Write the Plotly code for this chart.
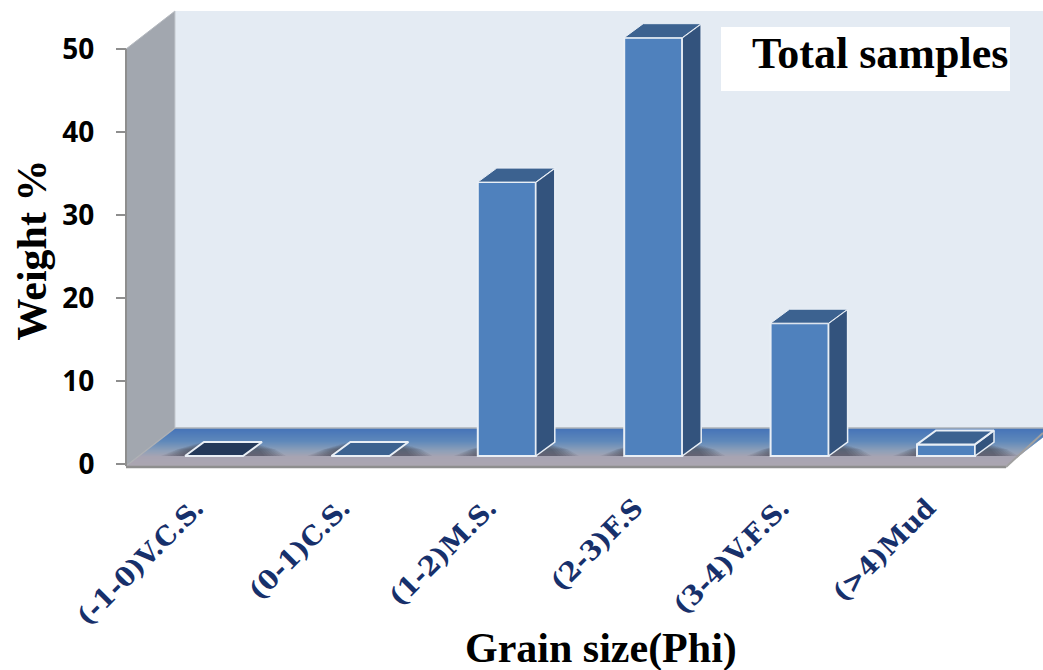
import plotly.graph_objects as go

# ---- data ----
categories = ["(-1-0)V.C.S.", "(0-1)C.S.", "(1-2)M.S.", "(2-3)F.S", "(3-4)V.F.S.", "(>4)Mud"]
weight_pct = [0.0, 0.0, 33.0, 50.4, 16.0, 1.4]
y_ticks = [0, 10, 20, 30, 40, 50]
top_colors = ["#24395A", "#3C6290", "#3C6290", "#3C6290", "#3C6290", "#3C6290"]

# ---- canvas / projection ----
W, H = 1043, 670
L, R, T, B = 126, 0, 0, 170
PLOT_W, PLOT_H = W - L - R, H - T - B
PX_PER_UNIT = 8.3
AXIS_ZERO_PX = 464
BAR_ZERO_PX = 456
CAT0_PX, CAT_STEP = 214.0, 146.4
DOMAIN_LEFT_PX = 158
BAR_W = 58 / CAT_STEP
DX = 19 / CAT_STEP
DY = 14 / PX_PER_UNIT


def px(x):
    return (x - L) / PLOT_W


def py(y):
    return 1 - (y - T) / PLOT_H


def poly(points):
    return "M" + " L".join(f"{px(a):.5f},{py(b):.5f}" for a, b in points) + " Z"


def lerp_hex(c1, c2, t):
    a = [int(c1[i:i + 2], 16) for i in (1, 3, 5)]
    b = [int(c2[i:i + 2], 16) for i in (1, 3, 5)]
    return "#" + "".join(f"{round(u + (v - u) * t):02x}" for u, v in zip(a, b))


shapes = []


def add_poly(points, fill, line=None, width=0):
    shapes.append(dict(type="path", xref="paper", yref="paper", path=poly(points), fillcolor=fill,
                       line=dict(color=line or fill, width=width), layer="below"))


def add_line(x0, y0, x1, y1, color, width):
    shapes.append(dict(type="line", xref="paper", yref="paper", x0=px(x0), y0=py(y0), x1=px(x1), y1=py(y1),
                       line=dict(color=color, width=width), layer="below"))


# back wall and left wall
add_poly([(175, 11), (1043, 11), (1043, 428), (175, 428)], "#E4EBF3")
add_poly([(126, 49), (175, 11), (175, 428), (126, 466)], "#A2A7AF")

# floor: gradient made of strips
FLOOR_TOP, FLOOR_BOT = 428, 466
stops = [(428, "#4472B8"), (441, "#5E88BA"), (451, "#8FA0B8"), (457, "#A8A4B2"), (466, "#ABA6B1")]


def floor_color(y):
    for (y0, c0), (y1, c1) in zip(stops, stops[1:]):
        if y <= y1:
            return lerp_hex(c0, c1, (y - y0) / (y1 - y0))
    return stops[-1][1]


def floor_x(y):
    frac = (FLOOR_BOT - y) / (FLOOR_BOT - FLOOR_TOP)
    return 126 + 49 * frac, 1006 + 49 * frac


y = FLOOR_TOP
while y < FLOOR_BOT:
    a0, b0 = floor_x(y)
    a1, b1 = floor_x(y + 1.4)
    add_poly([(a0, y), (b0, y), (b1, y + 1.4), (a1, y + 1.4)], floor_color(y + 0.5))
    y += 1

add_line(175, 428, 1043, 428, "#AEB3B9", 1.5)
add_line(126, 49, 175, 11, "#B5B9BF", 1)
add_line(175, 11, 175, 428, "#C4C9CF", 1)
add_line(126, 466, 175, 428, "#AEB0B4", 1.5)
add_line(126, 49, 126, 466, "#8E8E8E", 2)
add_line(126, 467, 1006, 467, "#8E8E8E", 2.5)
add_line(1006, 467, 1043, 433, "#A0A0A0", 2)

# white box holding the chart title
add_poly([(721, 27), (1010, 27), (1010, 91), (721, 91)], "#FFFFFF")

fig = go.Figure()

# soft shadows on the floor, on the primary axis (drawn below the bars)
to_y1 = lambda v: v + (AXIS_ZERO_PX - BAR_ZERO_PX) / PX_PER_UNIT
for i in range(len(categories)):
    for grow in (24, 21, 18, 15, 12, 9, 6, 3):
        g = grow / CAT_STEP
        left = i - BAR_W / 2 - g
        right = i + BAR_W / 2 + DX + g
        ylo = to_y1(0)
        yhi = to_y1(DY * (1 - grow / 48))
        fig.add_trace(go.Scatter(
            x=[left, right, right - DX * 0.6, left + DX * 0.9, left],
            y=[ylo, ylo, yhi, yhi, ylo],
            mode="lines", line=dict(width=0), fill="toself",
            fillcolor="rgba(45,45,55,0.085)", hoverinfo="skip", showlegend=False,
        ))

# front faces
fig.add_trace(go.Bar(
    x=list(range(len(categories))), y=weight_pct, width=BAR_W, yaxis="y2",
    marker=dict(color="#4F81BD", line=dict(color="#E9EFF6", width=2)),
    showlegend=False, hoverinfo="skip",
))

# right side and top faces derived from the values
for i, v in enumerate(weight_pct):
    x0, x1 = i - BAR_W / 2, i + BAR_W / 2
    if v > 0:
        fig.add_trace(go.Scatter(
            x=[x1, x1 + DX, x1 + DX, x1, x1], y=[0, DY, v + DY, v, 0], yaxis="y2",
            mode="lines", line=dict(color="#E9EFF6", width=1.5), fill="toself", fillcolor="#33537D",
            hoverinfo="skip", showlegend=False,
        ))
    fig.add_trace(go.Scatter(
        x=[x0, x1, x1 + DX, x0 + DX, x0], y=[v, v, v + DY, v + DY, v], yaxis="y2",
        mode="lines", line=dict(color="#E9EFF6", width=2 if v < 2 else 1), fill="toself",
        fillcolor=top_colors[i], hoverinfo="skip", showlegend=False,
    ))

x_lo = (DOMAIN_LEFT_PX - CAT0_PX) / CAT_STEP
x_hi = (W - CAT0_PX) / CAT_STEP
y_top = (AXIS_ZERO_PX - T) / PX_PER_UNIT
y_bot = (AXIS_ZERO_PX - (T + PLOT_H)) / PX_PER_UNIT
y2_top = (BAR_ZERO_PX - T) / PX_PER_UNIT
y2_bot = (BAR_ZERO_PX - (T + PLOT_H)) / PX_PER_UNIT

fig.update_layout(
    width=W, height=H, margin=dict(l=L, r=R, t=T, b=B, pad=0),
    paper_bgcolor="white", plot_bgcolor="rgba(0,0,0,0)",
    shapes=shapes, showlegend=False, barmode="overlay",
    xaxis=dict(
        domain=[(DOMAIN_LEFT_PX - L) / PLOT_W, 1], range=[x_lo, x_hi],
        tickmode="array", tickvals=list(range(len(categories))), ticktext=categories,
        tickangle=-45, ticks="", showline=False, showgrid=False, zeroline=False,
        ticklabelstandoff=-14, ticklabelshift=-18,
        tickfont=dict(family="DejaVu Serif", size=26.5, color="#17306B", weight="bold"),
    ),
    yaxis=dict(
        anchor="free", position=0, range=[y_bot, y_top],
        tickmode="array", tickvals=y_ticks, ticks="outside", ticklen=10, tickcolor="#8E8E8E", tickwidth=2,
        showline=False, showgrid=False, zeroline=False, ticklabelstandoff=16,
        tickfont=dict(family="Open Sans", size=28, color="#000000", weight="bold"),
        title=dict(text="Weight %", standoff=1,
                   font=dict(family="Liberation Serif", size=42, color="#000000", weight="bold")),
    ),
    yaxis2=dict(overlaying="y", range=[y2_bot, y2_top], visible=False),
    annotations=[
        dict(text="Total samples", xref="paper", yref="paper", x=px(880), y=py(54), showarrow=False,
             xanchor="center", yanchor="middle",
             font=dict(family="Liberation Serif", size=44, color="#000000", weight="bold")),
        dict(text="Grain size(Phi)", xref="paper", yref="paper", x=px(601), y=py(648), showarrow=False,
             xanchor="center", yanchor="middle",
             font=dict(family="Liberation Serif", size=42, color="#000000", weight="bold")),
    ],
)

fig.write_html("out.html", config=dict(displayModeBar=False),
               post_script="document.body.style.margin='0';")
